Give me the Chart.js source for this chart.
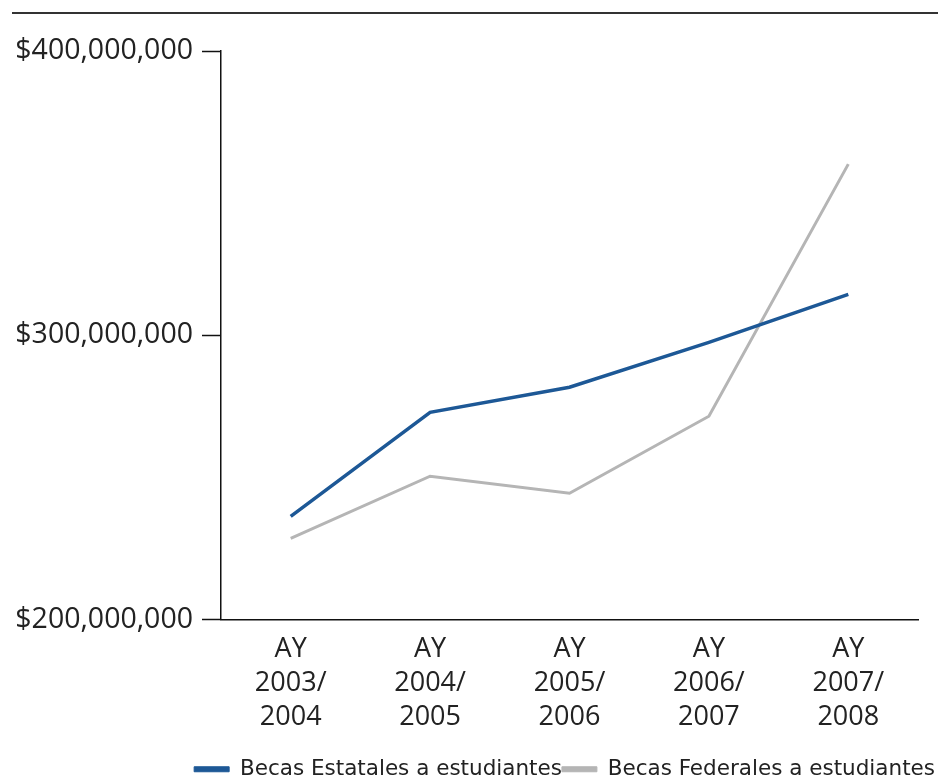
<!DOCTYPE html>
<html>
<head>
<meta charset="utf-8">
<script src="https://cdn.jsdelivr.net/npm/chart.js@4/dist/chart.umd.min.js"></script>
<style>
  html, body { margin: 0; padding: 0; background: #ffffff; }
  #wrap { position: relative; width: 938px; height: 780px; }
</style>
</head>
<body>
<div id="wrap"><canvas id="chart" width="938" height="780"></canvas></div>
<script>
// Academic years shown on the x axis (one line per row of the label)
const academicYears = [
  ['AY', '2003/', '2004'],
  ['AY', '2004/', '2005'],
  ['AY', '2005/', '2006'],
  ['AY', '2006/', '2007'],
  ['AY', '2007/', '2008']
];

// Grant totals in dollars
const becasEstatales = [236300000, 272900000, 281700000, 297500000, 314400000];
const becasFederales = [228500000, 250400000, 244400000, 271500000, 360200000];

const seriesNames = ['Becas Estatales a estudiantes', 'Becas Federales a estudiantes'];

// Value axis ticks
const yTicks = [200000000, 300000000, 400000000];

const textColor = '#222222';

// Rule across the top of the figure
const topRule = {
  id: 'topRule',
  afterDraw(chart) {
    const ctx = chart.ctx;
    ctx.save();
    ctx.strokeStyle = '#333333';
    ctx.lineWidth = 2;
    ctx.beginPath();
    ctx.moveTo(12, 13);
    ctx.lineTo(938, 13);
    ctx.stroke();
    ctx.restore();
  }
};

new Chart(document.getElementById('chart'), {
  type: 'line',
  data: {
    labels: academicYears,
    datasets: [
      {
        label: seriesNames[0],
        data: becasEstatales,
        borderColor: '#1d5896',
        backgroundColor: '#1d5896',
        borderWidth: 3.5,
        pointRadius: 0,
        tension: 0
      },
      {
        label: seriesNames[1],
        data: becasFederales,
        borderColor: '#b5b5b5',
        backgroundColor: '#b5b5b5',
        borderWidth: 3,
        pointRadius: 0,
        tension: 0
      }
    ]
  },
  options: {
    responsive: false,
    animation: false,
    layout: { padding: { top: 51, right: 3, bottom: -10, left: 0 } },
    plugins: {
      tooltip: { enabled: false },
      legend: {
        position: 'bottom',
        align: 'end',
        labels: {
          boxWidth: 35,
          boxHeight: 5,
          padding: 0,
          color: textColor,
          font: { family: 'DejaVu Sans', size: 21.5 },
          generateLabels(chart) {
            return Chart.defaults.plugins.legend.labels.generateLabels(chart)
              .map(item => Object.assign(item, { lineWidth: 1 }));
          }
        }
      }
    },
    scales: {
      x: {
        type: 'category',
        offset: true,
        border: { display: true, color: '#111111', width: 1.5 },
        grid: { display: false, drawTicks: false },
        ticks: {
          color: textColor,
          padding: 13,
          maxRotation: 0,
          font: { family: 'Open Sans', size: 27, lineHeight: 1.26 }
        },
        afterFit(scale) { scale.height = 139; }
      },
      y: {
        min: 200000000,
        max: 400000000,
        border: { display: true, color: '#111111', width: 1.5 },
        grid: {
          drawOnChartArea: false,
          drawTicks: true,
          tickLength: 19,
          tickColor: '#111111',
          tickWidth: 1.5
        },
        afterBuildTicks(scale) {
          scale.ticks = yTicks.map(v => ({ value: v }));
        },
        ticks: {
          color: textColor,
          padding: 9,
          font: { family: 'Open Sans', size: 28.5 },
          callback: v => '$' + Number(v).toLocaleString('en-US')
        },
        afterFit(scale) { scale.width = 221; }
      },
      // empty margin on the right of the plot area
      rightGap: {
        position: 'right',
        display: true,
        border: { display: false },
        grid: { display: false, drawTicks: false },
        ticks: { display: false },
        afterFit(scale) { scale.width = 17; }
      }
    }
  },
  plugins: [topRule]
});
</script>
</body>
</html>
